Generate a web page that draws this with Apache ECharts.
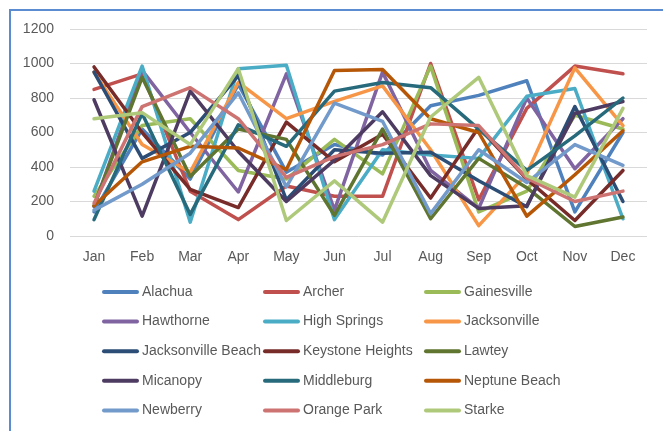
<!DOCTYPE html>
<html>
<head>
<meta charset="utf-8">
<script src="https://cdn.jsdelivr.net/npm/echarts@6/dist/echarts.min.js"></script>
<style>
  html, body { margin: 0; padding: 0; background: #ffffff; }
  #chart { width: 663px; height: 431px; }
</style>
</head>
<body>
<div id="chart"></div>
<script>
// Monthly values per town
const months = ['Jan', 'Feb', 'Mar', 'Apr', 'May', 'Jun', 'Jul', 'Aug', 'Sep', 'Oct', 'Nov', 'Dec'];
const yTicks = [0, 200, 400, 600, 800, 1000, 1200];

const alachua           = [140, 620, 330, 880, 370, 530, 470, 755, 815, 900, 140, 600];
const archer            = [850, 940, 260, 95, 290, 230, 230, 1000, 210, 740, 985, 940];
const gainesville       = [230, 640, 680, 380, 330, 560, 360, 985, 140, 260, 700, 620];
const hawthorne         = [170, 960, 600, 255, 940, 150, 950, 380, 160, 800, 390, 680];
const highSprings       = [260, 985, 80, 970, 990, 95, 500, 470, 450, 810, 855, 100];
const jacksonville      = [950, 530, 370, 890, 680, 780, 870, 500, 60, 360, 975, 640];
const jacksonvilleBeach = [950, 450, 600, 930, 210, 500, 480, 485, 320, 170, 750, 200];
const keystoneHeights   = [980, 600, 270, 165, 660, 430, 590, 220, 630, 330, 90, 380];
const lawtey            = [175, 920, 345, 620, 560, 120, 620, 100, 450, 280, 55, 110];
const micanopy          = [790, 115, 840, 490, 200, 440, 720, 350, 160, 175, 710, 780];
const middleburg        = [95, 710, 125, 645, 520, 840, 890, 860, 620, 380, 580, 800];
const neptuneBeach      = [175, 430, 520, 510, 385, 960, 965, 680, 600, 115, 355, 610];
const newberry          = [150, 300, 480, 830, 285, 770, 665, 130, 500, 310, 530, 410];
const orangePark        = [190, 750, 860, 680, 340, 460, 530, 650, 640, 335, 200, 260];
const starke            = [680, 715, 530, 970, 90, 320, 80, 690, 920, 350, 225, 740];

const towns = [
  ['Alachua', alachua, '#4F81BD'],
  ['Archer', archer, '#C0504D'],
  ['Gainesville', gainesville, '#9BBB59'],
  ['Hawthorne', hawthorne, '#8064A2'],
  ['High Springs', highSprings, '#4BACC6'],
  ['Jacksonville', jacksonville, '#F79646'],
  ['Jacksonville Beach', jacksonvilleBeach, '#2C4D75'],
  ['Keystone Heights', keystoneHeights, '#772C2A'],
  ['Lawtey', lawtey, '#5F7530'],
  ['Micanopy', micanopy, '#4D3B62'],
  ['Middleburg', middleburg, '#276A7C'],
  ['Neptune Beach', neptuneBeach, '#B65708'],
  ['Newberry', newberry, '#729ACA'],
  ['Orange Park', orangePark, '#CD7371'],
  ['Starke', starke, '#AFC97A']
];

const FONT = '"Liberation Sans", Arial, sans-serif';
const TEXT = '#595959';

// Legend laid out in three columns, read row by row
const columnLefts = [102, 263, 424];
const legends = columnLefts.map((left, c) => ({
  orient: 'vertical',
  left: left,
  top: 285,
  padding: 0,
  itemWidth: 33,
  itemHeight: 14,
  itemGap: 15.6,
  selectedMode: false,
  itemStyle: { opacity: 0, borderWidth: 0 },
  lineStyle: { width: 4, cap: 'round' },
  textStyle: { fontFamily: FONT, fontSize: 14, color: TEXT },
  data: towns.filter((t, i) => i % 3 === c).map(t => t[0])
}));

const chart = echarts.init(document.getElementById('chart'), null, { renderer: 'canvas' });
chart.setOption({
  animation: false,
  backgroundColor: '#ffffff',
  graphic: [{
    type: 'rect',
    shape: { x: 10, y: 10, width: 700, height: 500 },
    style: { fill: 'none', stroke: '#5B8BD0', lineWidth: 2 },
    silent: true,
    z: 100
  }],
  grid: { left: 70, right: 16, top: 29, bottom: 195 },
  legend: legends,
  xAxis: {
    type: 'category',
    data: months,
    boundaryGap: true,
    axisLine: { show: false },
    axisTick: { show: false },
    axisLabel: { fontFamily: FONT, fontSize: 14, color: TEXT, margin: 14 }
  },
  yAxis: {
    type: 'value',
    min: yTicks[0],
    max: yTicks[yTicks.length - 1],
    interval: yTicks[1] - yTicks[0],
    axisLine: { show: false },
    axisTick: { show: false },
    splitLine: { lineStyle: { color: '#D9D9D9', width: 1 } },
    axisLabel: { fontFamily: FONT, fontSize: 14, color: TEXT, margin: 16, formatter: v => String(v) }
  },
  series: towns.map(([name, values, color]) => ({
    name: name,
    type: 'line',
    data: values,
    symbol: 'none',
    showSymbol: false,
    color: color,
    lineStyle: { color: color, width: 3.5, cap: 'round', join: 'round' },
    emphasis: { disabled: true }
  }))
});
</script>
</body>
</html>
